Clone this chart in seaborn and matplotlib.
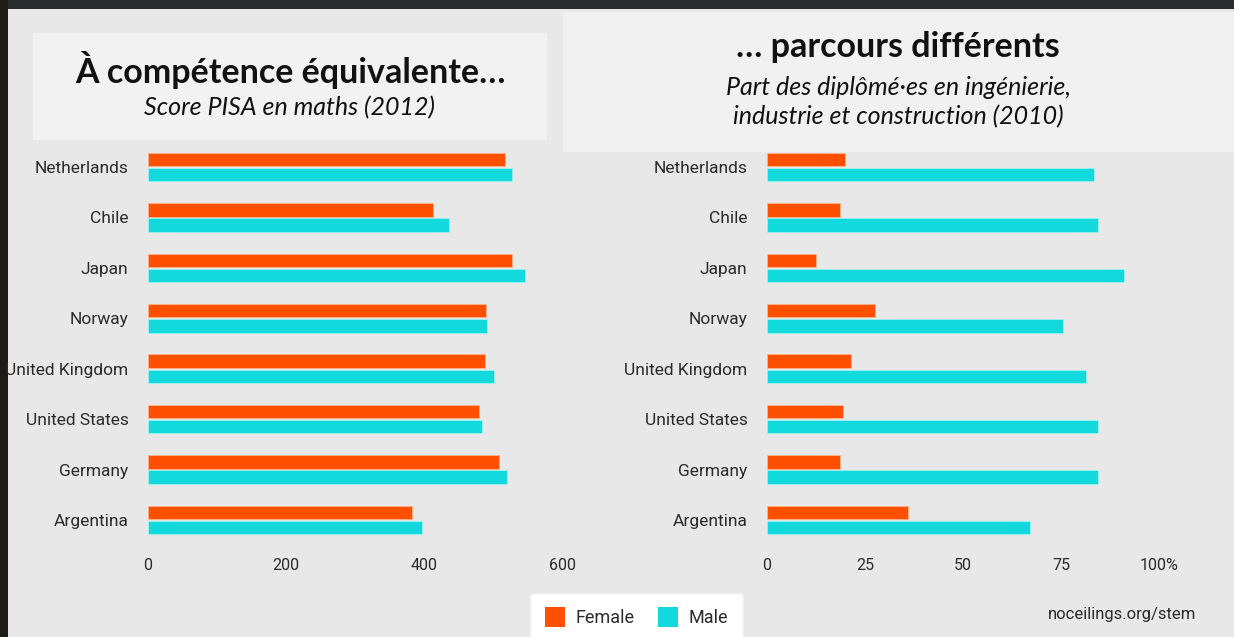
"""
Recréation du graphique « À compétence équivalente… parcours différents ».

Deux barres horizontales par pays (femmes / hommes) :
- à gauche le score PISA en maths (2012)
- à droite la part des diplômé·es en ingénierie (2010)
"""

import pandas as pd
import matplotlib.pyplot as plt
import seaborn as sns
from matplotlib.patches import Rectangle

# Données
pays = ["Netherlands", "Chile", "Japan", "Norway", "United Kingdom",
        "United States", "Germany", "Argentina"]
sexes = ["Female", "Male"]

pisa_femmes = [518, 413, 527, 490, 489, 479, 509, 383]
pisa_hommes = [528, 436, 547, 492, 501, 484, 520, 397]

ingenierie_femmes = [20, 18.5, 12.5, 27.5, 21.5, 19.5, 18.5, 36]
ingenierie_hommes = [83.5, 84.5, 91, 75.5, 81.5, 84.5, 84.5, 67]

ticks_pisa = [0, 200, 400, 600]
labels_pisa = ["0", "200", "400", "600"]
ticks_part = [0, 25, 50, 75, 100]
labels_part = ["0", "25", "50", "75", "100%"]

ORANGE = "#ff4f00"
CYAN = "#12d9dc"
TEXTE = "#2a2a2a"
W, H = 1234, 637


def tableau_long(femmes, hommes):
    """Met les deux séries au format long pour seaborn."""
    return pd.DataFrame({
        "pays": pays * 2,
        "sexe": ["Female"] * len(pays) + ["Male"] * len(pays),
        "valeur": femmes + hommes,
    })


def px_axes(x0, x1, y_haut, y_bas):
    """Convertit une boîte en pixels (origine en haut à gauche) en coordonnées figure."""
    return [x0 / W, 1 - y_bas / H, (x1 - x0) / W, (y_bas - y_haut) / H]


def tracer_panneau(fig, rect, df, xmax, ticks, labels):
    ax = fig.add_axes(rect)
    sns.barplot(data=df, x="valeur", y="pays", hue="sexe", order=pays,
                hue_order=sexes, palette=[ORANGE, CYAN], saturation=1,
                orient="h", width=0.6, gap=0.12, legend=False, ax=ax,
                linewidth=0.6, edgecolor="#ffb38a")
    # liseré plus clair comme sur l'original
    for barre in ax.patches:
        if barre.get_facecolor()[1] > 0.6:
            barre.set_edgecolor("#9ff0f0")
    ax.set_xlim(0, xmax)
    ax.set_ylim(len(pays) - 0.5, -0.5)
    ax.set_xticks(ticks)
    ax.set_xticklabels(labels)
    ax.set_xlabel("")
    ax.set_ylabel("")
    ax.set_facecolor("none")
    sns.despine(ax=ax, left=True, bottom=True)
    ax.tick_params(axis="y", length=0, pad=14, labelsize=12.5, labelcolor=TEXTE)
    ax.tick_params(axis="x", length=0, pad=9, labelsize=11.5, labelcolor=TEXTE)
    for t in ax.get_yticklabels() + ax.get_xticklabels():
        t.set_fontfamily("Roboto")
    return ax


def main():
    sns.set_style("white")
    plt.rcParams["font.family"] = ["Lato", "DejaVu Sans"]

    fig = plt.figure(figsize=(W / 100, H / 100), dpi=100)
    fig.patch.set_facecolor("#1f1b17")

    # fond clair de la diapositive + bandeau sombre en haut
    fig.add_artist(Rectangle((8 / W, 0), 1, 1 - 9 / H, transform=fig.transFigure,
                             facecolor="#e8e8e8", edgecolor="none", zorder=0))
    fig.add_artist(Rectangle((8 / W, 1 - 9 / H), 1, 9 / H, transform=fig.transFigure,
                             facecolor="#2a2c30", edgecolor="none", zorder=0))

    # encadrés des titres
    fig.add_artist(Rectangle((33 / W, 1 - 140 / H), 514 / W, 107 / H,
                             transform=fig.transFigure, facecolor="#f2f2f2",
                             edgecolor="none", zorder=1))
    fig.add_artist(Rectangle((563 / W, 1 - 152 / H), 1, 140 / H,
                             transform=fig.transFigure, facecolor="#f1f1f1",
                             edgecolor="none", zorder=1))

    tracer_panneau(fig, px_axes(148, 562, 141.8, 545.2),
                   tableau_long(pisa_femmes, pisa_hommes), 600, ticks_pisa, labels_pisa)
    tracer_panneau(fig, px_axes(767, 1159, 141.8, 545.2),
                   tableau_long(ingenierie_femmes, ingenierie_hommes), 100,
                   ticks_part, labels_part)

    # titres
    fig.text(290 / W, 1 - 70 / H, "À compétence équivalente…", ha="center", va="center",
             fontsize=24.5, fontweight="bold", color="#111111", zorder=2)
    fig.text(290 / W, 1 - 108 / H, "Score PISA en maths (2012)", ha="center", va="center",
             fontsize=18, style="italic", color="#111111", zorder=2)
    fig.text(898 / W, 1 - 47 / H, "… parcours différents", ha="center", va="center",
             fontsize=24.5, fontweight="bold", color="#111111", zorder=2)
    fig.text(898 / W, 1 - 102 / H,
             "Part des diplômé·es en ingénierie,\nindustrie et construction (2010)",
             ha="center", va="center", fontsize=18, style="italic",
             color="#111111", linespacing=1.3, zorder=2)

    # légende et source
    poignees = [Rectangle((0, 0), 1, 1, facecolor=c, edgecolor="none") for c in (ORANGE, CYAN)]
    leg = fig.legend(poignees, sexes, loc="upper center", ncol=2,
                     bbox_to_anchor=(636.5 / W, 1 - 593 / H), frameon=True,
                     fancybox=True, facecolor="white", edgecolor="#f0f0f0",
                     framealpha=1, handlelength=1.1, handleheight=1.3,
                     handletextpad=0.6, columnspacing=1.3, borderpad=0.8,
                     borderaxespad=0, prop={"family": "Roboto", "size": 13})
    for t in leg.get_texts():
        t.set_color(TEXTE)

    fig.text(1196 / W, 1 - 615 / H, "noceilings.org/stem", ha="right", va="center",
             fontsize=12, family="Roboto", color=TEXTE)

    fig.savefig("out.png", dpi=100, facecolor=fig.get_facecolor())


if __name__ == "__main__":
    main()
